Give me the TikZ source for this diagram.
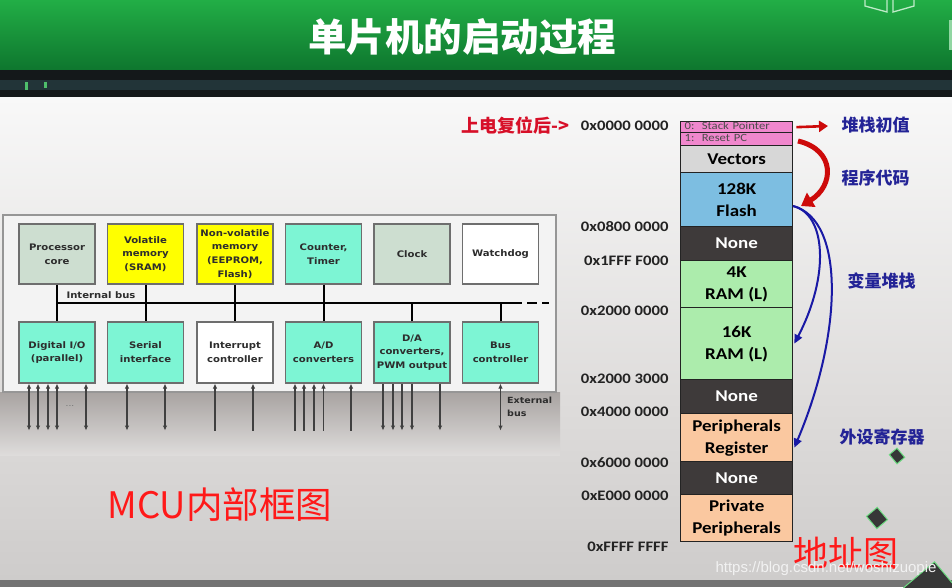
\documentclass[tikz,border=0pt]{standalone}
\usepackage{fontspec}
\usetikzlibrary{arrows.meta,calc}
\newfontfamily\cjk{Noto Sans CJK SC}
\newfontfamily\blkfont[FakeStretch=1.12]{DejaVu Sans}
\newfontfamily\memfont[FakeStretch=1.15]{Carlito}
\newfontfamily\wmfont{Liberation Sans}
\definecolor{green1}{RGB}{34,174,70}
\definecolor{green2}{RGB}{14,118,46}
\definecolor{stripc}{RGB}{20,24,26}
\definecolor{stripband}{RGB}{34,52,56}
\definecolor{bgtop}{RGB}{248,248,248}
\definecolor{bgmid}{RGB}{222,220,219}
\definecolor{bgbot}{RGB}{206,204,203}
\definecolor{shadowc}{RGB}{168,163,161}
\definecolor{outerbox}{RGB}{243,243,243}
\definecolor{outerdraw}{RGB}{150,150,150}
\definecolor{boxborder}{RGB}{110,110,110}
\definecolor{coregreen}{RGB}{205,222,208}
\definecolor{yel}{RGB}{255,255,0}
\definecolor{aqua}{RGB}{125,245,212}
\definecolor{blktext}{RGB}{45,45,45}
\definecolor{pinkc}{RGB}{240,135,205}
\definecolor{vecc}{RGB}{215,215,215}
\definecolor{flashc}{RGB}{125,190,225}
\definecolor{nonec}{RGB}{62,58,58}
\definecolor{ramc}{RGB}{172,236,172}
\definecolor{perc}{RGB}{250,200,160}
\definecolor{memborder}{RGB}{35,35,35}
\definecolor{addrcol}{RGB}{35,35,35}
\definecolor{redtxt}{RGB}{215,15,40}
\definecolor{bluetxt}{RGB}{35,35,150}
\definecolor{bluearr}{RGB}{25,25,165}
\definecolor{redarr}{RGB}{205,10,10}
\definecolor{bigred}{RGB}{255,25,25}
\definecolor{chipc}{RGB}{55,55,55}
\definecolor{chipedge}{RGB}{110,220,130}
\definecolor{iconc}{RGB}{190,235,200}
\tikzset{
  blk/.style={draw=boxborder, line width=1.1pt, minimum width=76pt, minimum height=60pt,
    inner sep=1pt, align=center, text=blktext,
    font=\blkfont\bfseries\fontsize{9}{13.8}\selectfont},
  mrow/.style={draw=memborder, line width=1.3pt, minimum width=112pt, anchor=north west,
    inner sep=0pt, align=center, text=black,
    font=\memfont\bfseries\fontsize{16.5}{22}\selectfont},
  pinkrow/.style={mrow, fill=pinkc, text width=104pt, align=left, text=black!70,
    text height=7pt, text depth=1.5pt, font=\memfont\fontsize{11}{11}\selectfont},
  nonerow/.style={mrow, fill=nonec, text=white},
  addr/.style={anchor=east, text=addrcol, font=\memfont\bfseries\fontsize{14.5}{16}\selectfont},
  cnlabel/.style={anchor=west, text=bluetxt, font=\cjk\bfseries\fontsize{17}{19}\selectfont},
  busline/.style={line width=2pt, black},
  ioline/.style={line width=1.2pt, black!75},
  ioboth/.style={ioline, {Latex[length=5pt,width=4.5pt]}-{Latex[length=5pt,width=4.5pt]}},
  ioup/.style={ioline, {Latex[length=5pt,width=4.5pt]}-},
  iodown/.style={ioline, -{Latex[length=5pt,width=4.5pt]}},
  bluecurve/.style={bluearr, line width=2pt, -{Triangle[length=9pt,width=8pt]}},
  chip/.style={fill=chipc, draw=chipedge, line width=1pt}
}
\begin{document}
\begin{tikzpicture}[x=1pt,y=-1pt]
\useasboundingbox (0,0) rectangle (952,587);
% background
\shade[top color=green1,bottom color=green2] (0,0) rectangle (952,70);
\fill[stripc] (0,70) rectangle (952,97);
\fill[stripband] (0,80) rectangle (952,90);
\fill[green1!80!white] (25,82) rectangle (28,90);
\fill[green1!80!white] (44,82) rectangle (47,88);
\fill[green1!50!white] (949,20) rectangle (952,50);
\draw[iconc, line width=1.3pt] (865,0) -- (865,6) -- (887,12) -- (887,0);
\draw[iconc, line width=1.3pt] (893,0) -- (893,12) -- (914,6) -- (914,0);
\shade[top color=bgtop,bottom color=bgmid] (0,97) rectangle (952,400);
\shade[top color=bgmid,bottom color=bgbot] (0,400) rectangle (952,580);
\shade[top color=shadowc,bottom color=bgmid] (0,392) rectangle (560,455);
\fill[black!55] (0,580) rectangle (952,587);
\node[font=\cjk\bfseries\fontsize{38.5}{40}\selectfont, text=white] (title) at (462,37) {单片机的启动过程};

% MCU block diagram
\fill[outerbox, draw=outerdraw, line width=1.2pt] (3,215) rectangle (556,392);
\node[blk, fill=coregreen] (pc)  at (57,254)    {Processor\\core};
\node[blk, fill=yel]       (vm)  at (145.5,254) {Volatile\\memory\\(SRAM)};
\node[blk, fill=yel]       (nvm) at (235,254)   {Non-volatile\\memory\\(EEPROM,\\Flash)};
\node[blk, fill=aqua]      (ct)  at (323.5,254) {Counter,\\Timer};
\node[blk, fill=coregreen] (clk) at (412,254)   {Clock};
\node[blk, fill=white]     (wd)  at (500.5,254) {Watchdog};
\node[blk, fill=aqua, minimum height=61pt] (dio) at (57,352.5)    {Digital I/O\\(parallel)};
\node[blk, fill=aqua, minimum height=61pt] (ser) at (145.5,352.5) {Serial\\interface};
\node[blk, fill=white, minimum height=61pt] (ic) at (235,352.5)  {Interrupt\\controller};
\node[blk, fill=aqua, minimum height=61pt] (ad) at (323.5,352.5) {A/D\\converters};
\node[blk, fill=aqua, minimum height=61pt] (da) at (412,352.5)   {D/A\\converters,\\PWM output};
\node[blk, fill=aqua, minimum height=61pt] (bc) at (500.5,352.5) {Bus\\controller};
\coordinate (busL) at (57,303);
\coordinate (busR) at (522,303);
\coordinate (busE) at (549,303);
\draw[busline] (busL) -- (busR);
\draw[busline, dash pattern=on 10pt off 5pt] ([xshift=5pt]busR) -- (busE);
\node[font=\blkfont\bfseries\fontsize{9}{10}\selectfont, text=blktext] (ibus) at (101,295) {Internal bus};
\draw[busline] (pc.south) -- (dio.north);
\draw[busline] (vm.south) -- (ser.north);
\draw[busline] (nvm.south) -- (ic.north);
\draw[busline] (ct.south) -- (ad.north);
\draw[busline] (da.north) -- (da.north |- busL);
\draw[busline] (bc.north) -- (bc.north |- busL);
\foreach \d in {-28,-19,-9,0,29} \draw[ioboth] ([xshift=\d pt]dio.south) -- ++(0,47);
\foreach \d in {-18.5,19.5} \draw[ioboth] ([xshift=\d pt]ser.south) -- ++(0,47);
\foreach \d in {-20,18} \draw[ioup] ([xshift=\d pt]ic.south) -- ++(0,47);
\foreach \d in {-28.5,-19.5,-9.5,0,27.5} \draw[ioup] ([xshift=\d pt]ad.south) -- ++(0,47);
\foreach \d in {-29,-19,-10,0,28} \draw[iodown] ([xshift=\d pt]da.south) -- ++(0,47);
\draw[ioboth] (bc.south) -- ++(0,47);
\node[text=black!55, font=\blkfont\fontsize{8}{9}\selectfont] (dots) at (70,406) {...};
\node[anchor=north west, align=left, inner sep=0pt, text=blktext,
  font=\blkfont\bfseries\fontsize{8.5}{12.5}\selectfont] (extbus) at (507,397) {External\\bus};

% memory map
\node[pinkrow, minimum height=11pt] (sp)  at (680,121) {0:\ \ Stack Pointer};
\node[pinkrow, minimum height=13pt] (rpc) at (680,132) {1:\ \ Reset PC};
\node[mrow, fill=vecc, minimum height=27pt] (vec) at (680,145) {Vectors};
\node[mrow, fill=flashc, minimum height=54pt] (flash) at (680,172) {128K\\Flash};
\node[nonerow, minimum height=34pt] (none1) at (680,226) {None};
\node[mrow, fill=ramc, minimum height=47pt] (ram4) at (680,260) {4K\\RAM (L)};
\node[mrow, fill=ramc, minimum height=72pt] (ram16) at (680,307) {16K\\RAM (L)};
\node[nonerow, minimum height=34pt] (none2) at (680,379) {None};
\node[mrow, fill=perc, minimum height=48pt] (per) at (680,413) {Peripherals\\Register};
\node[nonerow, minimum height=33pt] (none3) at (680,461) {None};
\node[mrow, fill=perc, minimum height=47pt] (priv) at (680,494) {Private\\Peripherals};

\node[addr] (a0) at (672,126) {0x0000 0000};
\node[addr] (a1) at (672,227) {0x0800 0000};
\node[addr] (a2) at (672,261) {0x1FFF F000};
\node[addr] (a3) at (672,311) {0x2000 0000};
\node[addr] (a4) at (672,379) {0x2000 3000};
\node[addr] (a5) at (672,412) {0x4000 0000};
\node[addr] (a6) at (672,463) {0x6000 0000};
\node[addr] (a7) at (672,496) {0xE000 0000};
\node[addr] (a8) at (672,547) {0xFFFF FFFF};

\node[anchor=east, text=redtxt, font=\cjk\bfseries\fontsize{18}{20}\selectfont] (pwr) at (573,126) {上电复位后->};

% arrows
\coordinate (spT) at (828,126);
\draw[redarr, line width=2.6pt, -{Triangle[length=9pt,width=11pt]}] ([xshift=3pt]sp.east) -- (spT);
\coordinate (rpcA) at (798,141);
\coordinate (flashA) at (801,206);
\draw[redarr, line width=5pt, -{Triangle[length=12pt,width=16pt]}] (rpcA) .. controls (836,150) and (834,186) .. (flashA);
\coordinate (flashB) at (793,206);
\draw[bluecurve] (flashB) .. controls (826,214) and (830,275) .. ([xshift=1pt]ram16.east);
\draw[bluecurve] (flashB) .. controls (846,220) and (842,335) .. ([xshift=1pt,yshift=-10pt]per.east);

\node[cnlabel] (l1) at (838,125) {堆栈初值};
\node[cnlabel] (l2) at (838,178) {程序代码};
\node[cnlabel] (l3) at (844,281) {变量堆栈};
\node[cnlabel] (l4) at (836,437) {外设寄存器};

\node[anchor=west, text=bigred, font=\cjk\fontsize{36.5}{38}\selectfont] (mcu) at (104,505) {MCU内部框图};
\node[anchor=west, text=bigred, font=\cjk\fontsize{35}{37}\selectfont] (addrmap) at (790,553) {地址图};

% decorative chips
\fill[chip, rotate around={-50:(897,456)}] (891,451) rectangle (903,461);
\fill[chip, rotate around={-50:(877,518)}] (869,511) rectangle (885,525);
\fill[chip, rotate around={-50:(932,590)}] (912,570) rectangle (952,610);
\node[text=white!90!gray, font=\wmfont\fontsize{15}{17}\selectfont] (wm) at (826,569) {https://blog.csdn.net/woshizuopie};
\end{tikzpicture}
\end{document}
